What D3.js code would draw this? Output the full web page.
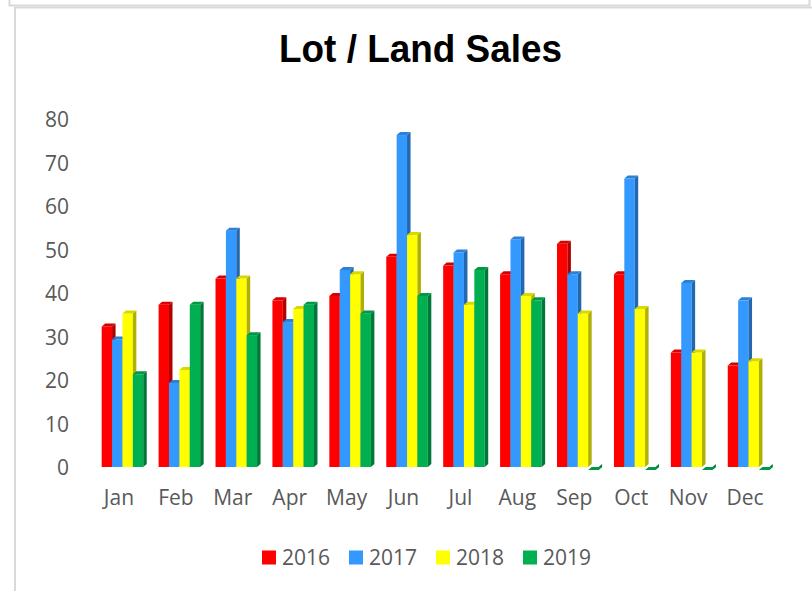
<!DOCTYPE html>
<html>
<head>
<meta charset="utf-8">
<script src="https://cdn.jsdelivr.net/npm/d3@7"></script>
<style>
  body { margin: 0; background: #fff; }
  svg { display: block; }
  .tick text { font-family: "Open Sans", sans-serif; font-size: 21px; fill: #595959; }
</style>
</head>
<body>
<svg class="chart" width="812" height="591"></svg>
<script>
// data
const months = ["Jan", "Feb", "Mar", "Apr", "May", "Jun", "Jul", "Aug", "Sep", "Oct", "Nov", "Dec"];
const years = ["2016", "2017", "2018", "2019"];
const sales2016 = [33, 38, 44, 39, 40, 49, 47, 45, 52, 45, 27, 24];
const sales2017 = [30, 20, 55, 34, 46, 77, 50, 53, 45, 67, 43, 39];
const sales2018 = [36, 23, 44, 37, 45, 54, 38, 40, 36, 37, 27, 25];
const sales2019 = [22, 38, 31, 38, 36, 40, 46, 39, 0, 0, 0, 0];
const yTicks = [0, 10, 20, 30, 40, 50, 60, 70, 80];

const colors = ["#ff0000", "#3399ff", "#ffff00", "#00b050"];
const sideColors = ["#b00000", "#2268b0", "#b0b000", "#00783a"];
const topColors = ["#d80000", "#2b80d8", "#d8d800", "#009845"];

const seriesList = [sales2016, sales2017, sales2018, sales2019];

var svg = d3.select(".chart");

// frame lines
svg.append("rect")
    .attr("x", 9.5).attr("y", -10).attr("width", 800).attr("height", 15.5)
    .attr("fill", "none").attr("stroke", "#d9d9d9").attr("stroke-width", 2);
svg.append("rect")
    .attr("x", 15).attr("y", 7.5).attr("width", 820).attr("height", 620)
    .attr("fill", "#fff").attr("stroke", "#d9d9d9").attr("stroke-width", 2);

// title
svg.append("text")
    .attr("x", 420.5).attr("y", 62)
    .attr("text-anchor", "middle")
    .attr("font-family", "Liberation Sans, Arial, sans-serif")
    .attr("font-weight", "bold")
    .attr("font-size", 39)
    .attr("textLength", 283)
    .attr("lengthAdjust", "spacingAndGlyphs")
    .text("Lot / Land Sales");

const x = d3.scaleBand().domain(months).range([90.5, 773.5]);
const y = d3.scaleLinear().domain([0, 80]).range([467, 119]);

const depthX = 3.5, depthY = 3;
const groupW = x.bandwidth() * 0.73;
const xs = d3.scaleBand().domain(years).range([0, groupW]);

// y axis labels
const yAxis = svg.append("g")
    .attr("transform", "translate(69,0)")
    .call(d3.axisLeft(y).tickValues(yTicks).tickSize(0).tickPadding(0));
yAxis.select(".domain").remove();
yAxis.selectAll("text").attr("dy", "0.36em");

// x axis labels
const xAxis = svg.append("g")
    .attr("transform", "translate(0,467)")
    .call(d3.axisBottom(x).tickSize(0).tickPadding(23));
xAxis.select(".domain").remove();

// bars (front, side, top) with a little depth
const bars = svg.append("g");
months.forEach((m, i) => {
    const gx = x(m) + (x.bandwidth() - groupW) / 2 + depthX;
    years.forEach((yr, k) => {
        const v = seriesList[k][i];
        const x0 = gx + xs(yr), w = xs.bandwidth();
        const yTop = y(v) + depthY, yBase = y(0);
        const g = bars.append("g");
        g.append("rect")
            .attr("x", x0).attr("y", yTop)
            .attr("width", w).attr("height", Math.max(0, yBase - yTop))
            .attr("fill", colors[k]);
        g.append("path")
            .attr("d", `M${x0 + w},${yTop}L${x0 + w + depthX},${yTop - depthY}L${x0 + w + depthX},${yBase - depthY}L${x0 + w},${yBase}Z`)
            .attr("fill", sideColors[k]);
        g.append("path")
            .attr("d", `M${x0},${yTop}L${x0 + depthX},${yTop - depthY}L${x0 + w + depthX},${yTop - depthY}L${x0 + w},${yTop}Z`)
            .attr("fill", topColors[k]);
    });
});

// legend
const legend = svg.append("g");
years.forEach((yr, k) => {
    const lx = 262 + k * 87;
    legend.append("rect")
        .attr("x", lx).attr("y", 550.5).attr("width", 14).attr("height", 14)
        .attr("fill", colors[k]);
    legend.append("text")
        .attr("x", lx + 20).attr("y", 565)
        .attr("font-family", "Open Sans, sans-serif")
        .attr("font-size", 21)
        .attr("fill", "#595959")
        .text(yr);
});
</script>
</body>
</html>
